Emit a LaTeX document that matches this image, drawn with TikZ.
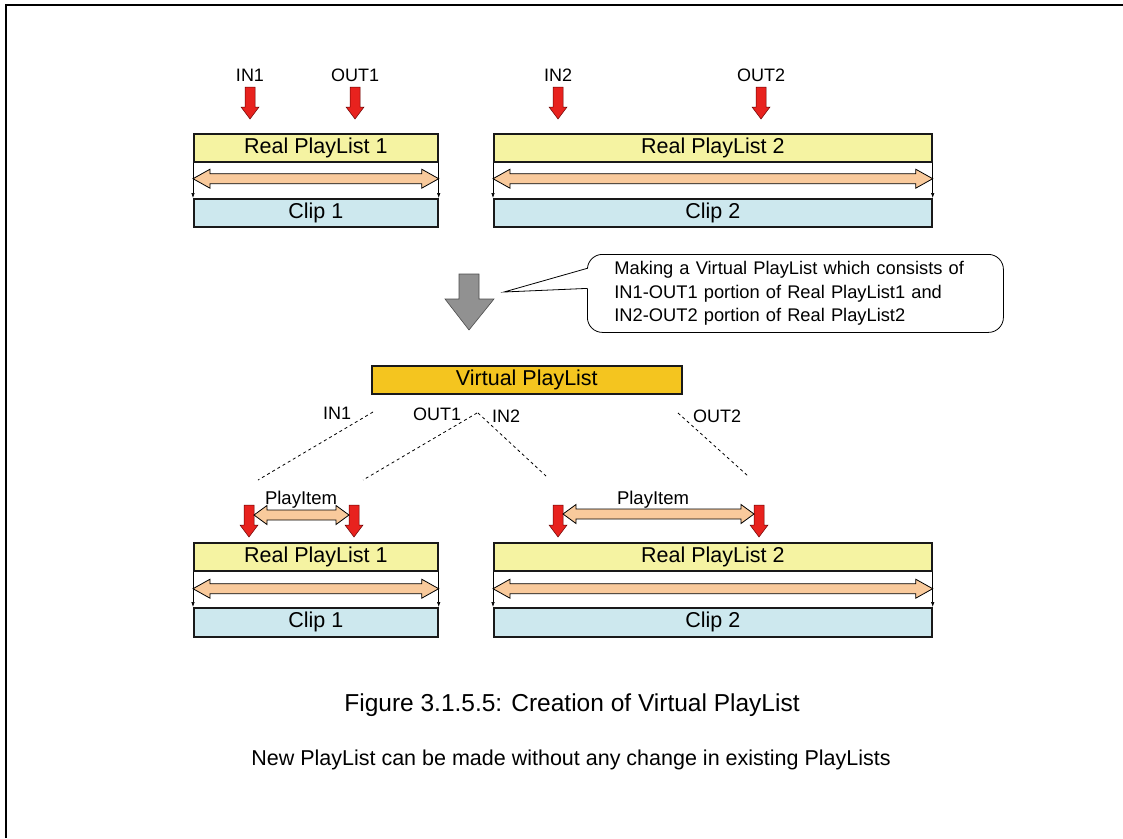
\documentclass[tikz,border=0pt]{standalone}
\usepackage{fontspec}
\setmainfont{Liberation Sans}
\usepackage{xcolor}
\usetikzlibrary{arrows.meta}
\usetikzlibrary{calc}

\definecolor{listyellow}{HTML}{F5F3A2}
\definecolor{clipblue}{HTML}{CDE8EE}
\definecolor{spanorange}{HTML}{F9CA9C}
\definecolor{markred}{HTML}{E8221E}
\definecolor{virtgold}{HTML}{F4C51F}

% block double arrow between two named coordinates, #1 = head length
\newcommand{\spanarrow}[3][17]{%
  \filldraw[fill=spanorange, draw=black, line width=0.8pt]
    (#2) -- ++(#1,-9.5) -- ++(0,4.5) -- ($(#3)+(-#1,-5)$) -- ++(0,-4.5)
    -- (#3) -- ++(-#1,9.5) -- ++(0,-4.5) -- ($(#2)+(#1,5)$) -- ++(0,4.5) -- cycle;}

\tikzset{
  listbox/.style={draw=black!90, line width=1.7pt, minimum height=28pt, inner sep=0pt,
    anchor=north west, font=\fontsize{21.5}{23}\selectfont},
  tag/.style={font=\fontsize{18}{20}\selectfont, inner sep=0pt},
  thinarrow/.style={line width=0.6pt, -{Latex[length=5pt,width=3.5pt]}},
  link/.style={line width=0.8pt, dash pattern=on 3pt off 3pt},
  inout/.pic={\filldraw[fill=markred, draw=red!40!black, line width=0.5pt]
    (-5,-32) -- (5,-32) -- (5,-12) -- (9,-12) -- (0,0) -- (-9,-12) -- (-5,-12) -- cycle;}
}

\begin{document}
\begin{tikzpicture}[x=1pt, y=-1pt]
  \useasboundingbox (0,0) rectangle (1123,838);
  \draw[line width=2pt] (6,838) -- (6,5) -- (1123,5);

  % real playlists before editing
  \node[listbox, fill=listyellow, minimum width=244pt] (rpl1) at (193,133) {Real PlayList 1};
  \node[listbox, fill=clipblue,   minimum width=244pt] (clip1) at (193,198) {Clip 1};
  \node[listbox, fill=listyellow, minimum width=438pt] (rpl2) at (493,133) {Real PlayList 2};
  \node[listbox, fill=clipblue,   minimum width=438pt] (clip2) at (493,198) {Clip 2};
  \draw[thinarrow] (rpl1.south west) -- (clip1.north west);
  \draw[thinarrow] (rpl1.south east) -- (clip1.north east);
  \draw[thinarrow] (rpl2.south west) -- (clip2.north west);
  \draw[thinarrow] (rpl2.south east) -- (clip2.north east);
  \coordinate (span1l) at ($(rpl1.south west)+(0,16)$);
  \coordinate (span1r) at ($(rpl1.south east)+(0,16)$);
  \coordinate (span2l) at ($(rpl2.south west)+(0,16)$);
  \coordinate (span2r) at ($(rpl2.south east)+(0,16)$);
  \spanarrow{span1l}{span1r}
  \spanarrow{span2l}{span2r}

  \node[tag] (in1) at (250,75) {IN1};
  \node[tag] (out1) at (355,75) {OUT1};
  \node[tag] (in2) at (558,75) {IN2};
  \node[tag] (out2) at (761,75) {OUT2};
  \pic at (250,119) {inout};
  \pic at (355,119) {inout};
  \pic at (558,119) {inout};
  \pic at (761,119) {inout};

  % gray step arrow and the note
  \filldraw[fill=black!43, draw=black!70, line width=0.6pt]
    (459,274) -- (479,274) -- (479,299) -- (494,299) -- (469,330) -- (445,299) -- (459,299) -- cycle;
  \node[draw, line width=0.8pt, rounded corners=15pt, fill=white, anchor=north west,
        minimum width=416pt, minimum height=78pt, inner xsep=27pt, text width=362pt, align=left,
        font=\fontsize{18.3}{23.5}\selectfont] (note) at (587,254)
    {Making a Virtual PlayList which consists of\\
     IN1-OUT1 portion of Real PlayList1 and\\
     IN2-OUT2 portion of Real PlayList2};
  \coordinate (notetip) at (504,292);
  \fill[white] ($(note.west)+(2,-25)$) -- (notetip) -- ($(note.west)+(2,-5)$) -- cycle;
  \draw[line width=0.8pt] ($(note.west)+(0,-25)$) -- (notetip) -- ($(note.west)+(0,-5)$);

  % virtual playlist
  \node[listbox, fill=virtgold, minimum width=310pt] (vpl) at (371,365) {Virtual PlayList};
  \node[tag] (vin1) at (337,413) {IN1};
  \node[tag] (vout1) at (437,414) {OUT1};
  \node[tag] (vin2) at (506,416) {IN2};
  \node[tag] (vout2) at (717,416) {OUT2};
  \coordinate (d1a) at (373,412);  \coordinate (d1b) at (258,480);
  \coordinate (d2a) at (477,413);  \coordinate (d2b) at (363,480);
  \coordinate (d3a) at (478,413);  \coordinate (d3b) at (546,476);
  \coordinate (d4a) at (678,413);  \coordinate (d4b) at (748,476);
  \draw[link] (d1a) -- (d1b);
  \draw[link] (d2a) -- (d2b);
  \draw[link] (d3a) -- (d3b);
  \draw[link] (d4a) -- (d4b);

  % real playlists after editing
  \node[listbox, fill=listyellow, minimum width=244pt] (rpl1b) at (193,542) {Real PlayList 1};
  \node[listbox, fill=clipblue,   minimum width=244pt, minimum height=29pt] (clip1b) at (193,607) {Clip 1};
  \node[listbox, fill=listyellow, minimum width=438pt] (rpl2b) at (493,542) {Real PlayList 2};
  \node[listbox, fill=clipblue,   minimum width=438pt, minimum height=29pt] (clip2b) at (493,607) {Clip 2};
  \draw[thinarrow] (rpl1b.south west) -- (clip1b.north west);
  \draw[thinarrow] (rpl1b.south east) -- (clip1b.north east);
  \draw[thinarrow] (rpl2b.south west) -- (clip2b.north west);
  \draw[thinarrow] (rpl2b.south east) -- (clip2b.north east);
  \coordinate (span3l) at ($(rpl1b.south west)+(0,17)$);
  \coordinate (span3r) at ($(rpl1b.south east)+(0,17)$);
  \coordinate (span4l) at ($(rpl2b.south west)+(0,17)$);
  \coordinate (span4r) at ($(rpl2b.south east)+(0,17)$);
  \spanarrow{span3l}{span3r}
  \spanarrow{span4l}{span4r}

  \pic at (249,537) {inout};
  \pic at (354,537) {inout};
  \pic at (558,537) {inout};
  \pic at (759,537) {inout};
  \coordinate (pi1l) at (254,515);  \coordinate (pi1r) at (349,515);
  \coordinate (pi2l) at (563,514);  \coordinate (pi2r) at (754,514);
  \spanarrow[13]{pi1l}{pi1r}
  \spanarrow[13]{pi2l}{pi2r}
  \node[tag, font=\fontsize{18.5}{20}\selectfont] (item1) at (301,500) {PlayItem};
  \node[tag, font=\fontsize{18.5}{20}\selectfont] (item2) at (653,500) {PlayItem};

  % caption
  \node[font=\fontsize{24.5}{27}\selectfont, inner sep=0pt] (caption) at (572,705)
    {Figure 3.1.5.5: Creation of Virtual PlayList};
  \node[font=\fontsize{21.5}{24}\selectfont, inner sep=0pt] (remark) at (571,760)
    {New PlayList can be made without any change in existing PlayLists};
\end{tikzpicture}
\end{document}
